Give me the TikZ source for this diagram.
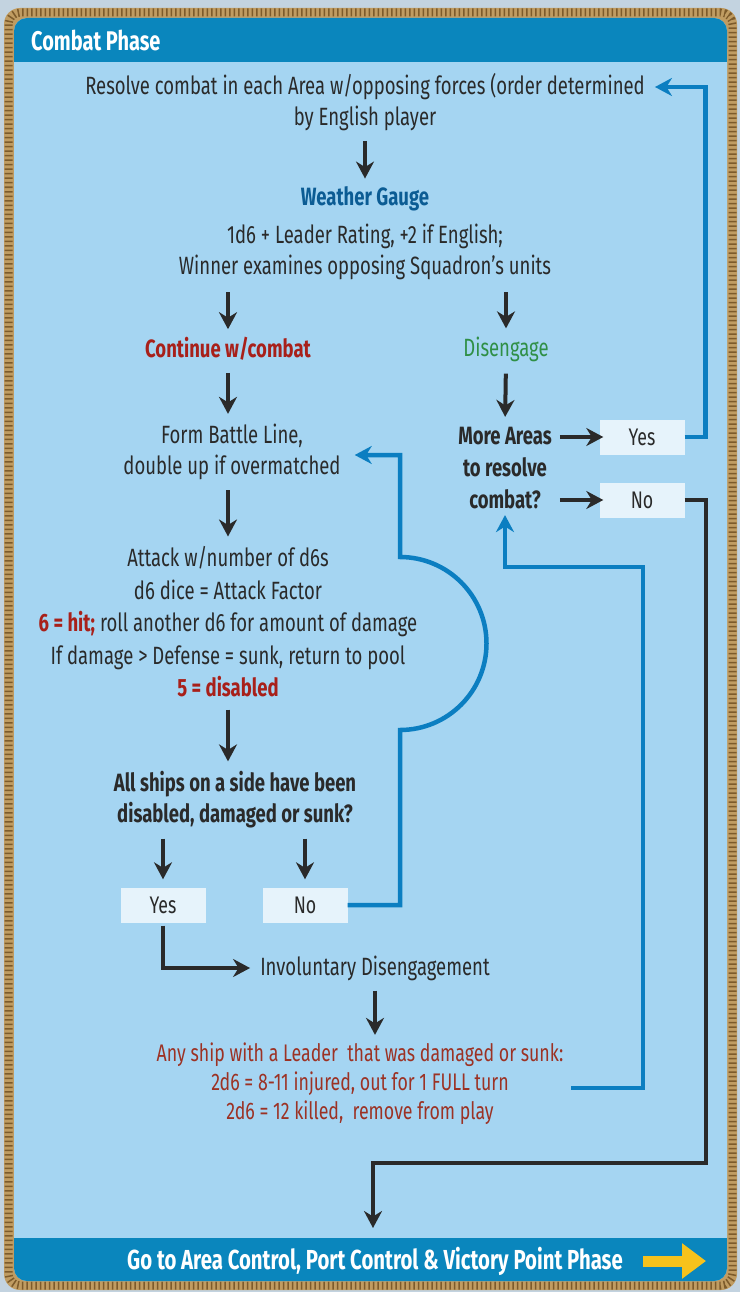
\documentclass[tikz,border=0pt]{standalone}
\usepackage{fontspec}
\setmainfont{Fira Sans}[FakeStretch=0.74]
\usepackage{tikz}
\usetikzlibrary{arrows.meta}

\definecolor{outerbg}{HTML}{C3D3E0}
\definecolor{rope}{HTML}{C09C62}
\definecolor{ropedark}{HTML}{7D5B2B}
\definecolor{panel}{HTML}{A5D5F2}
\definecolor{bar}{HTML}{0A86BD}
\definecolor{ink}{HTML}{2A2A2A}
\definecolor{gaugeblue}{HTML}{0B5C94}
\definecolor{hitred}{HTML}{A8201A}
\definecolor{disgreen}{HTML}{2F8F46}
\definecolor{flowblue}{HTML}{0B7EC1}
\definecolor{leaderred}{HTML}{9C3224}
\definecolor{boxfill}{HTML}{E6F3FB}
\definecolor{goyellow}{HTML}{F6C21C}

\tikzset{
  txt/.style={align=center, text=ink, inner sep=0pt, font=\fontsize{25}{31}\selectfont},
  bold/.style={txt, font=\fontsize{25}{31}\selectfont\bfseries},
  answer/.style={fill=boxfill, text=ink, minimum width=85pt, minimum height=35pt,
    inner sep=0pt, font=\fontsize{24}{26}\selectfont},
  blk/.style={line width=4pt, draw=ink, -{Stealth[length=17pt,width=18pt]}},
  blu/.style={line width=4.5pt, draw=flowblue, -{Stealth[length=17pt,width=18pt]}},
}

\begin{document}
\begin{tikzpicture}[x=1pt, y=-1pt]
  \useasboundingbox (0,0) rectangle (740,1292);
  \fill[outerbg] (0,0) rectangle (740,1292);

  % frame
  \fill[rope, rounded corners=16pt] (4,8) rectangle (737,1290);
  \draw[ropedark, line width=8pt, dash pattern=on 1.5pt off 3pt, rounded corners=12pt] (8.5,12.5) rectangle (732.5,1285.5);
  \fill[panel, rounded corners=13pt] (14,18) rectangle (727,1281);
  \fill[bar, rounded corners=13pt] (14,18) rectangle (727,62);
  \fill[bar] (14,40) rectangle (727,62);
  \fill[bar, rounded corners=13pt] (14,1238) rectangle (727,1281);
  \fill[bar] (14,1238) rectangle (727,1258);

  \node[bold, text=white, anchor=west, font=\fontsize{27}{30}\selectfont\bfseries] (title) at (31,40) {Combat Phase};

  % text blocks
  \node[txt] (resolve) at (365,102) {Resolve combat in each Area w/opposing forces (order determined\\by English player};
  \node[bold, text=gaugeblue] (gauge) at (365,199) {Weather Gauge};
  \node[txt] (rating) at (365,252) {1d6 + Leader Rating, +2 if English;\\Winner examines opposing Squadron’s units};
  \node[bold, text=hitred] (cont) at (228,349) {Continue w/combat};
  \node[txt, text=disgreen] (diseng) at (506,349) {Disengage};
  \node[txt] (form) at (232,452) {Form Battle Line,\\double up if overmatched};
  \node[bold, font=\fontsize{25}{32}\selectfont\bfseries] (more) at (505,468) {More Areas\\to resolve\\combat?};
  \node[answer] (yes) at (642,437) {Yes};
  \node[answer] (no) at (642,500) {No};
  \node[txt, font=\fontsize{25}{32.5}\selectfont] (attack) at (228,622) {Attack w/number of d6s\\d6 dice = Attack Factor\\
    \textcolor{hitred}{\bfseries 6 = hit;} roll another d6 for amount of damage\\
    If damage > Defense = sunk, return to pool\\\textcolor{hitred}{\bfseries 5 = disabled}};
  \node[bold] (sides) at (235,800) {All ships on a side have been\\disabled, damaged or sunk?};
  \node[answer] (yesb) at (163,905) {Yes};
  \node[answer] (nob) at (305,905) {No};
  \node[txt] (invol) at (375,968) {Involuntary Disengagement};
  \node[txt, text=leaderred, font=\fontsize{24}{29}\selectfont] (leader) at (360,1084) {Any ship with a Leader\ \ that was damaged or sunk:\\2d6 = 8-11 injured, out for 1 FULL turn\\2d6 = 12 killed,\ \ remove from play};
  \node[bold, text=white, font=\fontsize{27.5}{32}\selectfont\bfseries] (gonext) at (375,1261) {Go to Area Control, Port Control \& Victory Point Phase};

  % black flow
  \draw[blk, shorten <=10pt, shorten >=8pt] (resolve) -- (gauge);
  \draw[blk, shorten <=12pt, shorten >=8pt] (cont |- rating.south) -- (cont.north);
  \draw[blk, shorten <=12pt, shorten >=8pt] (diseng |- rating.south) -- (diseng.north);
  \draw[blk, shorten <=12pt, shorten >=10pt] (cont.south) -- (cont.south |- form.north);
  \draw[blk, shorten <=12pt, shorten >=10pt] (diseng.south) -- (more.north);
  \draw[blk, shorten <=8pt, shorten >=-4pt] (more.east |- yes) -- (yes.west);
  \draw[blk, shorten <=8pt, shorten >=-4pt] (more.east |- no) -- (no.west);
  \draw[blk, shorten <=10pt, shorten >=10pt] (cont |- form.south) -- (cont |- attack.north);
  \draw[blk, shorten <=12pt, shorten >=10pt] (attack.south) -- (attack.south |- sides.north);
  \draw[blk, shorten <=10pt, shorten >=8pt] (yesb |- sides.south) -- (yesb.north);
  \draw[blk, shorten <=10pt, shorten >=8pt] (nob |- sides.south) -- (nob.north);
  \draw[blk, shorten <=3pt, shorten >=10pt] (yesb.south) |- (invol.west);
  \draw[blk, shorten <=10pt, shorten >=8pt] (invol.south) -- (invol.south |- leader.north);
  \draw[blk] (no.east) -- ++(21,0) |- (373,1163) -- (373,1228);

  % blue loops
  \draw[blu] (yes.east) -- ++(21,0) |- ([xshift=10pt]resolve.north east |- 0,87);
  \draw[blu] (nob.east) -- (400,905) -- (400,730)
    arc[start angle=-90, end angle=90, radius=86.5pt] -- (400,455) -- ([xshift=14pt]form.north east |- 0,455);
  \draw[blu] ([xshift=8pt]leader.east |- 0,1088) -- (643,1088) |- (505,567) -- ([yshift=-6pt]more.south);

  % exit arrow
  \draw[goyellow, line width=11pt, -{Triangle[length=24pt,width=34pt]}] (643,1261) -- (706,1261);
\end{tikzpicture}
\end{document}
